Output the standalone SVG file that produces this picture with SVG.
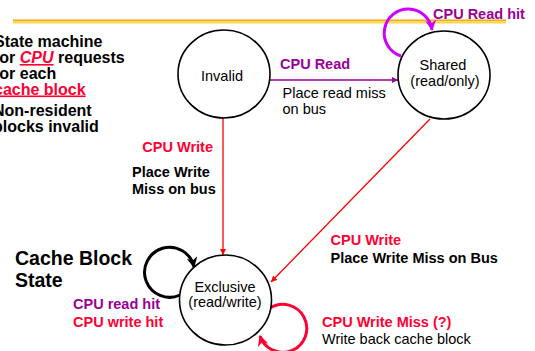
<svg xmlns="http://www.w3.org/2000/svg" width="535" height="351" viewBox="0 0 535 351">
<style>
text{font-family:"Liberation Sans",Arial,sans-serif;font-size:14.5px}
.b{font-weight:bold}
.red{fill:#ff0033}
.pur{fill:#990099}
.blk{fill:#000}
.node{fill:#fff;stroke:#000;stroke-width:1.6}
.mid{text-anchor:middle}
</style>
<defs>
<marker id="ahP" viewBox="0 0 10 10" refX="10" refY="5" markerWidth="6" markerHeight="6" markerUnits="userSpaceOnUse" orient="auto"><path d="M0,0 L10,5 L0,10 z" fill="#990099"/></marker>
<marker id="ahR" viewBox="0 0 10 10" refX="10" refY="5" markerWidth="6" markerHeight="6" markerUnits="userSpaceOnUse" orient="auto"><path d="M0,0 L10,5 L0,10 z" fill="#ff0000"/></marker>
<marker id="ahM" viewBox="0 0 10 10" refX="9" refY="5" markerWidth="11" markerHeight="11" markerUnits="userSpaceOnUse" orient="auto"><path d="M0,0 L10,5 L0,10 L3,5 z" fill="#cc00ff"/></marker>
<marker id="ahK" viewBox="0 0 10 10" refX="9" refY="5" markerWidth="11" markerHeight="11" markerUnits="userSpaceOnUse" orient="auto"><path d="M0,0 L10,5 L0,10 L3,5 z" fill="#000"/></marker>
<marker id="ahRL" viewBox="0 0 10 10" refX="9" refY="5" markerWidth="11" markerHeight="11" markerUnits="userSpaceOnUse" orient="auto"><path d="M0,0 L10,5 L0,10 L3,5 z" fill="#ff0033"/></marker>
</defs>
<g id="rule">
<line x1="13" y1="20.5" x2="506" y2="20.5" stroke="#f0b000" stroke-width="2"/>
<line x1="13" y1="22.8" x2="506" y2="22.8" stroke="#ffd84a" stroke-width="1.5"/>
</g>
<g id="side-text" class="b">
<text x="-6" y="46.5" style="font-size:16px">State machine</text>
<text x="-6" y="63" style="font-size:16px">for <tspan class="red" font-style="italic" text-decoration="underline">CPU</tspan> requests</text>
<text x="-6" y="78.5" style="font-size:16px">for each</text>
<text x="-6" y="94.5" class="red" style="font-size:16px" text-decoration="underline">cache block</text>
<text x="-7" y="116" style="font-size:16px">Non-resident</text>
<text x="-7" y="131.5" style="font-size:16px">blocks invalid</text>
<text x="15" y="265" style="font-size:19.5px">Cache Block</text>
<text x="15" y="287" style="font-size:19.5px">State</text>
</g>
<g id="connectors" fill="none">
<line x1="270" y1="80" x2="398" y2="80" stroke="#990099" stroke-width="1.5" marker-end="url(#ahP)"/>
<line x1="223" y1="118" x2="223" y2="255" stroke="#ff0000" stroke-width="1.3" marker-end="url(#ahR)"/>
<line x1="430" y1="119" x2="271" y2="282" stroke="#ff0000" stroke-width="1.3" marker-end="url(#ahR)"/>
<path d="M401 56 A24 24 0 1 1 432 30" stroke="#cc00ff" stroke-width="3" marker-end="url(#ahM)"/>
<path d="M180 295 A25 25 0 1 1 194 267" stroke="#000" stroke-width="3" marker-end="url(#ahK)"/>
<path d="M270 308 A24 24 0 1 1 260 336" stroke="#ff0033" stroke-width="3" marker-end="url(#ahRL)"/>
</g>
<g id="invalid">
<ellipse class="node" cx="224" cy="74" rx="46" ry="44"/>
<text class="mid" x="222" y="80.5">Invalid</text>
</g>
<g id="shared">
<ellipse class="node" cx="444" cy="75" rx="46" ry="44"/>
<text class="mid" x="443" y="70">Shared</text>
<text class="mid" x="445" y="86">(read/only)</text>
</g>
<g id="exclusive">
<ellipse class="node" cx="225.5" cy="300" rx="46" ry="45"/>
<text class="mid" x="225" y="292">Exclusive</text>
<text class="mid" x="225" y="307">(read/write)</text>
</g>
<g id="labels">
<text class="b pur" x="280" y="68.5">CPU Read</text>
<text x="282.5" y="97.5">Place read miss</text>
<text x="282.5" y="113.5">on bus</text>
<text class="b pur" x="433" y="18.5">CPU Read hit</text>
<text class="b red" x="213" y="152" text-anchor="end">CPU Write</text>
<text class="b" x="132" y="177">Place Write</text>
<text class="b" x="132" y="194">Miss on bus</text>
<text class="b red" x="330.5" y="245">CPU Write</text>
<text class="b" x="330.5" y="263">Place Write Miss on Bus</text>
<text class="b pur" x="73" y="309">CPU read hit</text>
<text class="b red" x="73" y="327">CPU write hit</text>
<text class="b red" x="322" y="326.5">CPU Write Miss (?)</text>
<text x="322" y="344">Write back cache block</text>
</g>
</svg>
